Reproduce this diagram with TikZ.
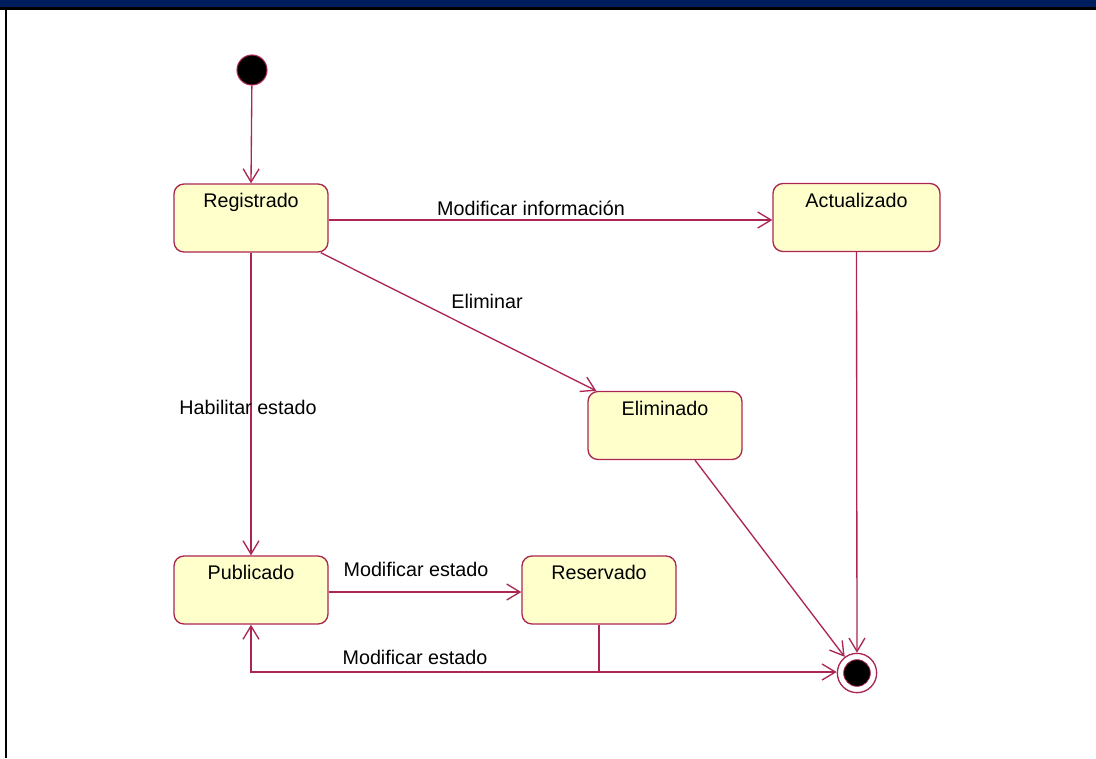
\documentclass[tikz,border=0pt]{standalone}
\usepackage{fontspec}
\setmainfont{Liberation Sans}
\usetikzlibrary{arrows.meta,calc}
\definecolor{linec}{RGB}{172,38,82}
\definecolor{boxfill}{RGB}{255,255,204}
\definecolor{barblue}{RGB}{0,30,95}
\begin{document}
\begin{tikzpicture}[x=0.75pt,y=-0.75pt,
  every node/.style={font=\fontsize{14.8}{17}\selectfont},
  statebox/.style={draw=linec, fill=boxfill, line width=1pt, rounded corners=7.5pt,
    minimum width=115.5pt, minimum height=51pt, inner sep=0pt},
  statetxt/.style={anchor=north, inner sep=0pt, yshift=-7.5pt},
  trans/.style={draw=linec, line width=1pt, -{Straight Barb[length=10pt,width=12pt,line width=1pt]}},
  plain/.style={draw=linec, line width=1pt},
  lbl/.style={inner sep=1pt}
]
\useasboundingbox (0,0) rectangle (1096,758);
% frame
\fill[barblue] (0,0) rectangle (1096,7.3);
\fill[black] (0,7.3) rectangle (1096,9.7);
\fill[black] (5,9.7) rectangle (7.2,758);

% initial
\node[circle, fill=black, draw=linec, line width=0.8pt, minimum size=22.5pt, inner sep=0pt] (init) at (252,70) {};

% states
\node[statebox] (reg) at (251,218) {};
\node[statetxt] (regt) at (reg.north) {Registrado};
\node[statebox, minimum width=125.25pt] (act) at (856.5,217.5) {};
\node[statetxt] (actt) at (act.north) {Actualizado};
\node[statebox] (elim) at (665,425.5) {};
\node[statetxt] (elimt) at (elim.north) {Eliminado};
\node[statebox] (pub) at (251,590) {};
\node[statetxt] (pubt) at (pub.north) {Publicado};
\node[statebox] (res) at (599,590) {};
\node[statetxt] (rest) at (res.north) {Reservado};

% final
\node[circle, draw=linec, line width=1pt, fill=white, minimum size=29.5pt, inner sep=0pt] (fin) at (857,673) {};
\node[circle, fill=black, draw=linec, line width=0.6pt, minimum size=20pt, inner sep=0pt] (fininner) at (fin) {};

% transitions
\draw[trans] (init) -- (reg.north);
\draw[trans] (reg.east |- 0,220) -- (act.west |- 0,220);
\coordinate (regse) at ($(reg.south east)+(-8,0)$);
\coordinate (elimnw) at ($(elim.north west)+(9,0)$);
\draw[trans] (regse) -- (elimnw);
\draw[trans] (reg.south) -- (pub.north);
\draw[trans] (pub.east |- 0,592) -- (res.west |- 0,592);
\coordinate (j) at (res.south |- 0,672);
\draw[plain] (res.south) -- (j);
\draw[trans] (j) -| (pub.south);
\draw[trans] (j) -- (fin.west |- 0,672);
\coordinate (elims) at ($(elim.south)+(30,0)$);
\draw[trans] (elims) -- (fin);
\draw[trans] (act.south) -- (fin.north);

% labels
\node[lbl] (l1) at (531,208) {Modificar información};
\node[lbl] (l2) at (487,301) {Eliminar};
\node[lbl] (l3) at (248,407) {Habilitar estado};
\node[lbl] (l4) at (416,569) {Modificar estado};
\node[lbl] (l5) at (415,657) {Modificar estado};
\end{tikzpicture}
\end{document}
